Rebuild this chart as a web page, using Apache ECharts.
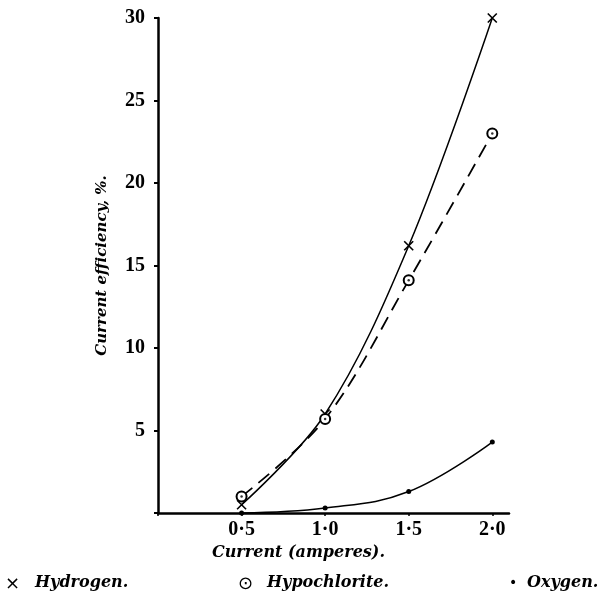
<!DOCTYPE html>
<html>
<head>
<meta charset="utf-8">
<script src="https://cdn.jsdelivr.net/npm/echarts@6/dist/echarts.min.js"></script>
<style>
  html, body { margin: 0; padding: 0; background: #fff; }
  #chart { width: 604px; height: 598px; }
</style>
</head>
<body>
<div id="chart"></div>
<script>
// current (amperes) vs current efficiency (%)
const currents = [0.5, 1.0, 1.5, 2.0];
const hydrogen = [0.5, 6.0, 16.2, 30.0];
const hypochlorite = [1.0, 5.7, 14.1, 23.0];
const oxygen = [0.0, 0.3, 1.3, 4.3];
const xTicks = [0.5, 1.0, 1.5, 2.0];

const serif = 'Liberation Serif';
const legendFont = 'italic bold 16px "DejaVu Serif"';
const pairs = ys => currents.map((x, i) => [x, ys[i]]);

const chart = echarts.init(document.getElementById('chart'));

chart.setOption({
  animation: false,
  backgroundColor: '#fff',
  grid: { left: 158, right: 95, top: 18, bottom: 85 },
  xAxis: {
    type: 'value',
    min: 0,
    max: 2.1,
    interval: 0.5,
    axisLine: { lineStyle: { color: '#000', width: 2.5 } },
    axisTick: { show: true, length: 3, lineStyle: { color: '#000', width: 1.5 } },
    splitLine: { show: false },
    axisLabel: {
      color: '#000',
      fontFamily: serif,
      fontWeight: 'bold',
      fontSize: 20,
      margin: 7,
      showMaxLabel: false,
      formatter: v => xTicks.some(t => Math.abs(t - v) < 1e-9) ? v.toFixed(1).replace('.', '·') : ''
    }
  },
  yAxis: {
    type: 'value',
    min: 0,
    max: 30,
    interval: 5,
    name: 'Current efficiency, %.',
    nameLocation: 'middle',
    nameRotate: 90,
    nameGap: 48,
    nameTextStyle: { color: '#000', fontFamily: 'DejaVu Serif', fontStyle: 'italic', fontWeight: 'bold', fontSize: 15 },
    axisLine: { lineStyle: { color: '#000', width: 2.5 } },
    axisTick: { show: true, length: 4, lineStyle: { color: '#000', width: 2 } },
    splitLine: { show: false },
    axisLabel: {
      color: '#000',
      fontFamily: serif,
      fontWeight: 'bold',
      fontSize: 20,
      margin: 13,
      formatter: v => v === 0 ? '' : String(v)
    }
  },
  series: [
    {
      name: 'Hydrogen',
      type: 'line',
      smooth: 0.35,
      data: pairs(hydrogen),
      symbol: 'path://M0,0L10,10M10,0L0,10',
      symbolSize: 9,
      itemStyle: { color: '#000', borderColor: '#000', borderWidth: 1.6 },
      lineStyle: { color: '#000', width: 1.5 }
    },
    {
      name: 'Hypochlorite',
      type: 'line',
      smooth: 0.35,
      data: pairs(hypochlorite),
      symbol: 'emptyCircle',
      symbolSize: 10,
      itemStyle: { color: '#000', borderColor: '#000', borderWidth: 1.6 },
      lineStyle: { color: '#000', width: 1.8, type: [14, 8] }
    },
    {
      name: 'Hypochlorite centre',
      type: 'scatter',
      data: pairs(hypochlorite),
      symbol: 'circle',
      symbolSize: 2.5,
      z: 5,
      itemStyle: { color: '#000' }
    },
    {
      name: 'Oxygen',
      type: 'line',
      smooth: 0.4,
      data: pairs(oxygen),
      symbol: 'circle',
      symbolSize: 5,
      itemStyle: { color: '#000' },
      lineStyle: { color: '#000', width: 1.5 }
    }
  ],
  graphic: [
    {
      type: 'text', left: 212, top: 545,
      style: { text: 'Current (amperes).', fill: '#000', font: legendFont }
    },
    {
      type: 'text', left: 5, top: 575,
      style: { text: '×', fill: '#000', font: '18px "DejaVu Sans"' }
    },
    {
      type: 'text', left: 35, top: 575,
      style: { text: 'Hydrogen.', fill: '#000', font: legendFont }
    },
    {
      type: 'text', left: 238, top: 575,
      style: { text: '⊙', fill: '#000', font: '18px "DejaVu Sans"' }
    },
    {
      type: 'text', left: 267, top: 575,
      style: { text: 'Hypochlorite.', fill: '#000', font: legendFont }
    },
    {
      type: 'text', left: 509, top: 576,
      style: { text: '•', fill: '#000', font: '14px "DejaVu Sans"' }
    },
    {
      type: 'text', left: 527, top: 575,
      style: { text: 'Oxygen.', fill: '#000', font: legendFont }
    }
  ]
});
</script>
</body>
</html>
